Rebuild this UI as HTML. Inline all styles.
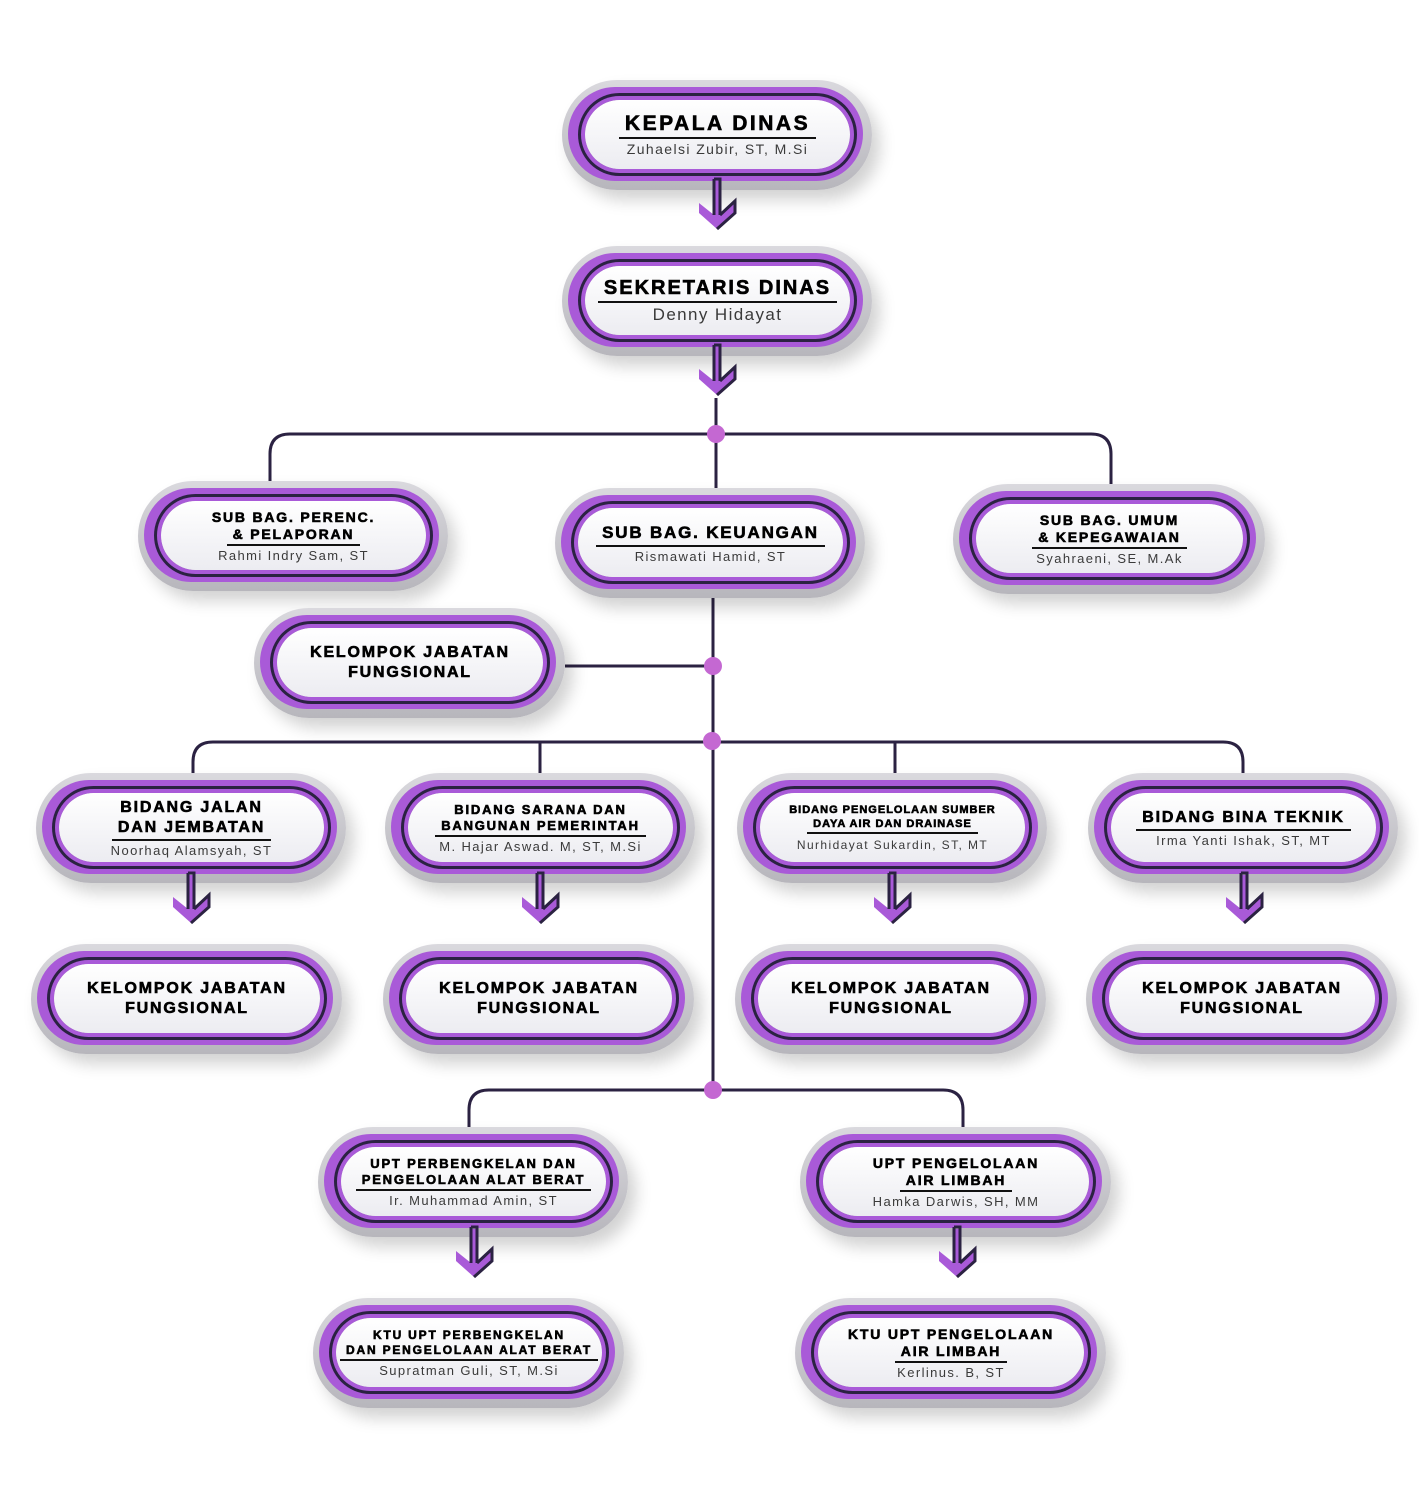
<!DOCTYPE html>
<html><head><meta charset="utf-8"><style>
body{margin:0;width:1419px;height:1500px;background:#fff;position:relative;overflow:hidden;font-family:"Liberation Sans",sans-serif}
svg{position:absolute;left:0;top:0}
.n{position:absolute;width:310px;height:110px;border-radius:55px;background:linear-gradient(#dad9de,#b7b6bc);box-shadow:8px 10px 16px rgba(0,0,0,.18)}
.p{position:absolute;left:6px;top:7px;right:9px;bottom:9px;border-radius:50px;background:#a95ad8}
.w{position:absolute;left:23px;top:20px;right:22px;bottom:21px;border-radius:40px;background:linear-gradient(#fff,#ececf1);box-shadow:0 0 0 4px #a95ad8,0 0 0 7px #2b2242;display:flex;flex-direction:column;align-items:center;justify-content:center;text-align:center}
.t{font-weight:bold;color:#000;font-size:14px;letter-spacing:1.8px;line-height:17px;-webkit-text-stroke:0.6px #000}
.u{border-bottom:2px solid #111;padding:0 6px 1px}
.s{font-size:13px;letter-spacing:1.4px;color:#3a3a3a;margin-top:2px}
#top{z-index:3}
</style></head><body>
<svg width="1419" height="1500" style="z-index:0">
<g fill="none" stroke="#2b2242" stroke-width="3">
<path d="M716 398V488"/>
<path d="M270 481V454Q270 434 290 434H1091Q1111 434 1111 454V484"/>
<path d="M713 598V1090"/>
<path d="M565 666H713"/>
<path d="M193 773V762Q193 742 213 742H1223Q1243 742 1243 762V773"/>
<path d="M540 742V773M895 742V773"/>
<path d="M469 1127V1110Q469 1090 489 1090H943Q963 1090 963 1110V1127"/>
</g>
<g fill="#c468d2"><circle cx="716" cy="434" r="9"/><circle cx="713" cy="666" r="9"/><circle cx="712" cy="741" r="9"/><circle cx="713" cy="1090" r="9"/></g>
</svg>

<div class="n" style="left:562px;top:80px"><div class="p"></div><div class="w"><div class="t u" style="font-size:21px;letter-spacing:2.5px;line-height:24px">KEPALA DINAS</div><div class="s" style="font-size:14px">Zuhaelsi Zubir, ST, M.Si</div></div></div>
<div class="n" style="left:562px;top:246px"><div class="p"></div><div class="w"><div class="t u" style="font-size:20px;letter-spacing:2px;line-height:24px">SEKRETARIS DINAS</div><div class="s" style="font-size:17px">Denny Hidayat</div></div></div>
<div class="n" style="left:138px;top:481px"><div class="p"></div><div class="w"><div class="t">SUB BAG. PERENC.</div><div class="t u">&amp; PELAPORAN</div><div class="s">Rahmi Indry Sam, ST</div></div></div>
<div class="n" style="left:555px;top:488px"><div class="p"></div><div class="w"><div class="t u" style="font-size:17px;line-height:22px">SUB BAG. KEUANGAN</div><div class="s">Rismawati Hamid, ST</div></div></div>
<div class="n" style="left:953px;top:484px;width:312px"><div class="p"></div><div class="w"><div class="t">SUB BAG. UMUM</div><div class="t u">&amp; KEPEGAWAIAN</div><div class="s">Syahraeni, SE, M.Ak</div></div></div>
<div class="n" style="left:254px;top:608px;width:311px"><div class="p"></div><div class="w"><div class="t" style="font-size:16px;line-height:20px">KELOMPOK JABATAN<br>FUNGSIONAL</div></div></div>

<div class="n" style="left:36px;top:773px"><div class="p"></div><div class="w"><div class="t" style="font-size:16px;line-height:20px">BIDANG JALAN</div><div class="t u" style="font-size:16px;line-height:20px">DAN JEMBATAN</div><div class="s">Noorhaq Alamsyah, ST</div></div></div>
<div class="n" style="left:385px;top:773px"><div class="p"></div><div class="w"><div class="t" style="font-size:13px;line-height:16px">BIDANG SARANA DAN</div><div class="t u" style="font-size:13px;line-height:16px">BANGUNAN PEMERINTAH</div><div class="s">M. Hajar Aswad. M, ST, M.Si</div></div></div>
<div class="n" style="left:737px;top:773px"><div class="p"></div><div class="w"><div class="t" style="font-size:11px;line-height:14px;letter-spacing:1px">BIDANG PENGELOLAAN SUMBER</div><div class="t u" style="font-size:11px;line-height:14px;letter-spacing:1px">DAYA AIR DAN DRAINASE</div><div class="s" style="font-size:12px;margin-top:4px">Nurhidayat Sukardin, ST, MT</div></div></div>
<div class="n" style="left:1088px;top:773px"><div class="p"></div><div class="w"><div class="t u" style="font-size:16px;line-height:21px">BIDANG BINA TEKNIK</div><div class="s">Irma Yanti Ishak, ST, MT</div></div></div>

<div class="n" style="left:31px;top:944px;width:311px"><div class="p"></div><div class="w"><div class="t" style="font-size:16px;line-height:20px">KELOMPOK JABATAN<br>FUNGSIONAL</div></div></div>
<div class="n" style="left:383px;top:944px;width:311px"><div class="p"></div><div class="w"><div class="t" style="font-size:16px;line-height:20px">KELOMPOK JABATAN<br>FUNGSIONAL</div></div></div>
<div class="n" style="left:735px;top:944px;width:311px"><div class="p"></div><div class="w"><div class="t" style="font-size:16px;line-height:20px">KELOMPOK JABATAN<br>FUNGSIONAL</div></div></div>
<div class="n" style="left:1086px;top:944px;width:311px"><div class="p"></div><div class="w"><div class="t" style="font-size:16px;line-height:20px">KELOMPOK JABATAN<br>FUNGSIONAL</div></div></div>

<div class="n" style="left:318px;top:1127px"><div class="p"></div><div class="w"><div class="t" style="font-size:13px;line-height:16px">UPT PERBENGKELAN DAN</div><div class="t u" style="font-size:13px;line-height:16px">PENGELOLAAN ALAT BERAT</div><div class="s">Ir. Muhammad Amin, ST</div></div></div>
<div class="n" style="left:800px;top:1127px;width:311px"><div class="p"></div><div class="w"><div class="t">UPT PENGELOLAAN</div><div class="t u">AIR LIMBAH</div><div class="s">Hamka Darwis, SH, MM</div></div></div>
<div class="n" style="left:313px;top:1298px;width:311px"><div class="p"></div><div class="w"><div class="t" style="font-size:12px;line-height:15px">KTU UPT PERBENGKELAN</div><div class="t u" style="font-size:12px;line-height:15px">DAN PENGELOLAAN ALAT BERAT</div><div class="s">Supratman Guli, ST, M.Si</div></div></div>
<div class="n" style="left:795px;top:1298px;width:311px"><div class="p"></div><div class="w"><div class="t">KTU UPT PENGELOLAAN</div><div class="t u">AIR LIMBAH</div><div class="s">Kerlinus. B, ST</div></div></div>

<svg id="top" width="1419" height="1500">
<defs><g id="a">
<path d="M-3 0V34L-18 22V32L0 48L18 32V20L3 34V0Z" fill="#a95ad8"/>
<path d="M-3 -2H3V34M3 34L18 20V32L0 48" fill="none" stroke="#2b2242" stroke-width="3"/>
<path d="M-3 -2V34" fill="none" stroke="#2b2242" stroke-width="3"/>
</g></defs>
<use href="#a" x="717" y="181"/>
<use href="#a" x="717" y="347"/>
<use href="#a" x="191" y="875"/>
<use href="#a" x="540" y="875"/>
<use href="#a" x="892" y="875"/>
<use href="#a" x="1244" y="875"/>
<use href="#a" x="474" y="1229"/>
<use href="#a" x="957" y="1229"/>
</svg>
</body></html>
